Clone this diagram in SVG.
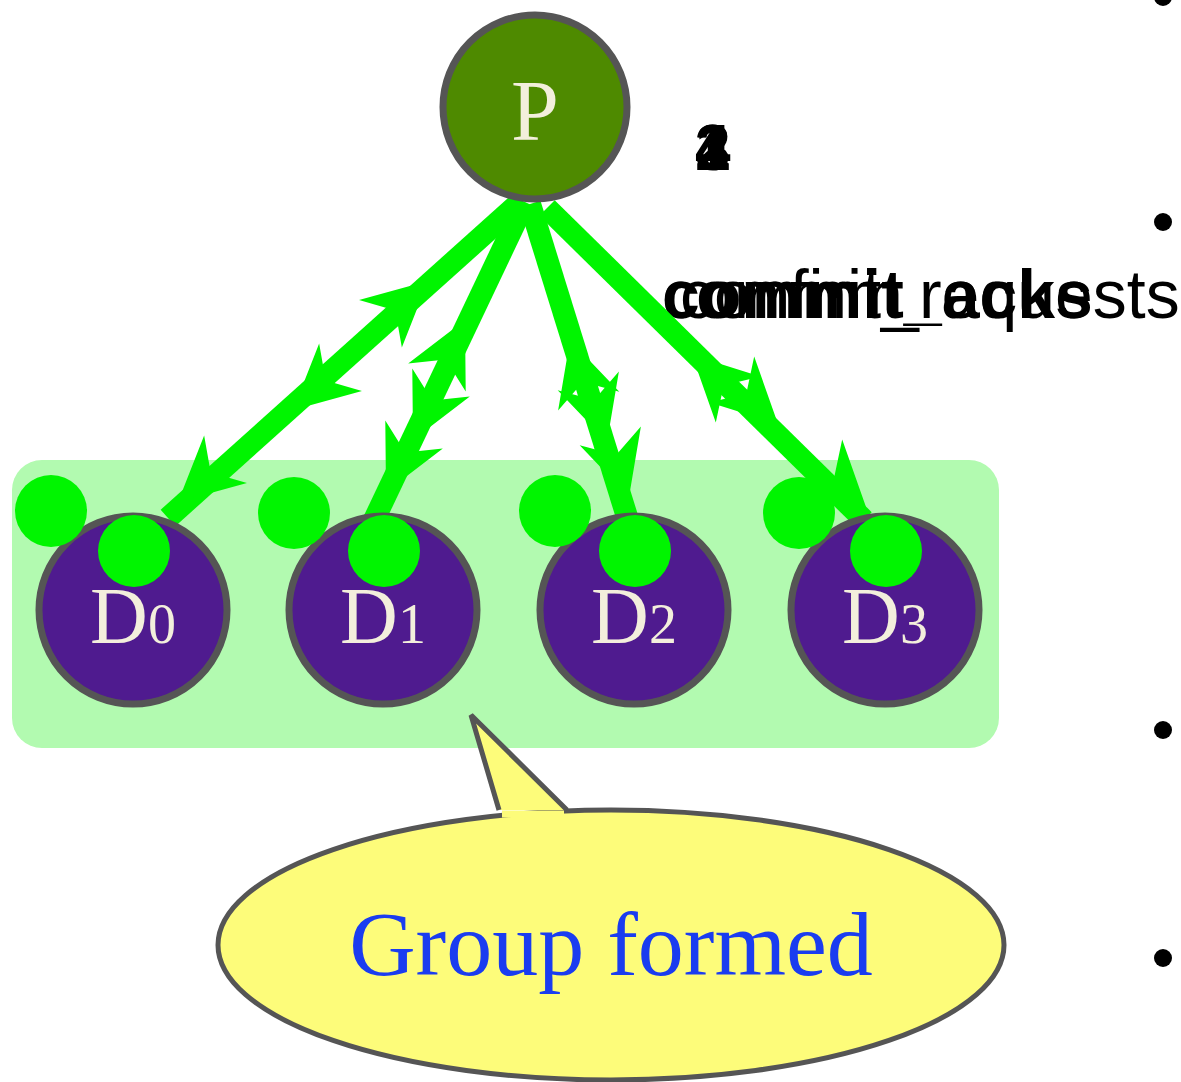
<svg xmlns="http://www.w3.org/2000/svg" width="1181" height="1082" viewBox="0 0 1181 1082">
<style>
.node{stroke:#555;stroke-width:7px}
.pn{fill:#4e8a00}
.dn{fill:#4f1b8f}
.lbl{font-family:"Liberation Serif",serif;fill:#f3efdc}
.edge{stroke:#00f500;fill:none}
.dot{fill:#00f500}
.txt{font-family:"Liberation Sans",Arial,sans-serif;fill:#000}
</style>
<defs>
<path id="ah" d="M0,0 L-64,-32 L-44,0 L-64,32 Z" fill="#00f500"/>
</defs>
<rect id="group" x="12" y="460" width="987" height="288" rx="30" fill="#b2fab0"/>
<g id="bullets">
<circle cx="1163" cy="-3" r="9"/>
<circle cx="1163" cy="222" r="9"/>
<circle cx="1163" cy="730" r="9"/>
<circle cx="1163" cy="958" r="9"/>
</g>
<g id="labels" class="txt">
<text x="695" y="170" font-size="64" font-weight="bold">1</text>
<text x="695" y="170" font-size="64" font-weight="bold">2</text>
<text x="695" y="170" font-size="64" font-weight="bold">3</text>
<text x="695" y="170" font-size="64" font-weight="bold">4</text>
<text x="662" y="318" font-size="68">commit_requests</text>
<text x="662" y="318" font-size="68" font-weight="bold">commit_acks</text>
<text x="680" y="318" font-size="68">confirm</text>
</g>
<g id="connectors">
<line class="edge" x1="520" y1="202" x2="168" y2="518" stroke-width="22"/>
<line class="edge" x1="525" y1="202" x2="374" y2="520" stroke-width="22"/>
<line class="edge" x1="530" y1="204" x2="628" y2="520" stroke-width="22"/>
<line class="edge" x1="547" y1="208" x2="864" y2="520" stroke-width="22"/>
<use href="#ah" transform="translate(428,281) rotate(-42)"/>
<use href="#ah" transform="translate(293,410) rotate(138)"/>
<use href="#ah" transform="translate(178,502) rotate(138)"/>
<use href="#ah" transform="translate(465,320) rotate(-64)"/>
<use href="#ah" transform="translate(413,440) rotate(116)"/>
<use href="#ah" transform="translate(386,492) rotate(116)"/>
<use href="#ah" transform="translate(570,340) rotate(-107)"/>
<use href="#ah" transform="translate(607,442) rotate(73)"/>
<use href="#ah" transform="translate(629,497) rotate(73)"/>
<use href="#ah" transform="translate(692,355) rotate(-136)"/>
<use href="#ah" transform="translate(778,424) rotate(44)"/>
<use href="#ah" transform="translate(866,507) rotate(44)"/>
</g>
<g id="P">
<circle class="node pn" cx="535" cy="107" r="92"/>
<text class="lbl" x="535" y="140" font-size="86" text-anchor="middle">P</text>
</g>
<g id="D0">
<circle class="node dn" cx="133" cy="610" r="94"/>
<text class="lbl" x="133" y="643" font-size="80" text-anchor="middle">D<tspan font-size="56">0</tspan></text>
</g>
<g id="D1">
<circle class="node dn" cx="383" cy="610" r="94"/>
<text class="lbl" x="383" y="643" font-size="80" text-anchor="middle">D<tspan font-size="56">1</tspan></text>
</g>
<g id="D2">
<circle class="node dn" cx="634" cy="610" r="94"/>
<text class="lbl" x="634" y="643" font-size="80" text-anchor="middle">D<tspan font-size="56">2</tspan></text>
</g>
<g id="D3">
<circle class="node dn" cx="885" cy="610" r="94"/>
<text class="lbl" x="885" y="643" font-size="80" text-anchor="middle">D<tspan font-size="56">3</tspan></text>
</g>
<g id="tokens">
<circle class="dot" cx="51" cy="511" r="36"/>
<circle class="dot" cx="294" cy="513" r="36"/>
<circle class="dot" cx="555" cy="511" r="36"/>
<circle class="dot" cx="799" cy="513" r="36"/>
<circle class="dot" cx="134" cy="551" r="36"/>
<circle class="dot" cx="384" cy="551" r="36"/>
<circle class="dot" cx="635" cy="551" r="36"/>
<circle class="dot" cx="886" cy="551" r="36"/>
</g>
<g id="callout">
<ellipse cx="611" cy="945" rx="393" ry="135" fill="#fdfc7a" stroke="#555" stroke-width="5"/>
<path d="M499,810 L471,715 L567,810" fill="#fdfc7a" stroke="#555" stroke-width="5" stroke-linejoin="miter"/>
<path d="M502,814 L564,814" stroke="#fdfc7a" stroke-width="7"/>
<text x="611" y="975" font-family="'Liberation Serif',serif" font-size="92" fill="#1a3cf0" text-anchor="middle">Group formed</text>
</g>
</svg>
